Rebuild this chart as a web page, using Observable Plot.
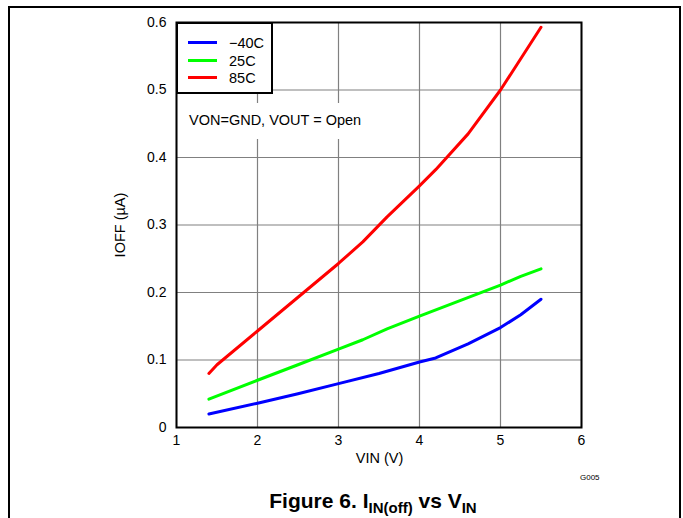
<!DOCTYPE html>
<html>
<head>
<meta charset="utf-8">
<script src="https://cdn.jsdelivr.net/npm/d3@7"></script>
<script src="https://cdn.jsdelivr.net/npm/@observablehq/plot@0.6"></script>
<style>
  body { margin: 0; background: #fff; }
  #wrap { position: relative; width: 683px; height: 518px; overflow: hidden; font-family: "Liberation Sans", Arial, sans-serif; color: #000; }
  #wrap svg { position: absolute; left: 0; top: 0; }
  .abs { position: absolute; white-space: nowrap; }
  #outer { position: absolute; left: 8px; top: 6px; width: 673px; height: 530px; border: 2px solid #000; border-bottom: none; box-sizing: border-box; }
  #legend { position: absolute; left: 176px; top: 22px; width: 97px; height: 72px; border: 2px solid #000; background: #fff; box-sizing: border-box; }
  .sw { position: absolute; left: 10px; width: 29px; height: 3px; }
  .lt { position: absolute; left: 51px; font-size: 14.5px; line-height: 14px; white-space: nowrap; }
  #note { position: absolute; left: 178px; top: 103px; width: 200px; height: 36px; background: #fff; }
  #note span { position: absolute; left: 11px; top: 10px; font-size: 14.5px; line-height: 14px; white-space: nowrap; }
  .title { font-weight: bold; font-size: 21px; line-height: 21px; }
  .title sub { font-size: 15px; vertical-align: -5px; }
</style>
</head>
<body>
<div id="wrap"></div>
<script>
// ---- data ----
const seriesNames = ["\u221240C", "25C", "85C"];
const seriesColors = ["#0000ff", "#00ff00", "#ff0000"];

const vinM40 = [1.4, 2, 2.5, 3, 3.5, 4, 4.2, 4.6, 5, 5.25, 5.5];
const ioffM40 = [0.020, 0.036, 0.050, 0.065, 0.080, 0.097, 0.103, 0.124, 0.148, 0.167, 0.190];

const vin25 = [1.4, 2, 2.5, 3, 3.3, 3.6, 4, 4.5, 5, 5.25, 5.5];
const ioff25 = [0.042, 0.070, 0.093, 0.116, 0.130, 0.146, 0.165, 0.188, 0.211, 0.224, 0.235];

const vin85 = [1.4, 1.5, 2, 2.5, 3, 3.3, 3.6, 4, 4.2, 4.6, 5, 5.2, 5.5];
const ioff85 = [0.080, 0.093, 0.143, 0.193, 0.243, 0.275, 0.312, 0.358, 0.382, 0.435, 0.500, 0.537, 0.593];

const xTicks = [1, 2, 3, 4, 5, 6];
const yTicks = [0, 0.1, 0.2, 0.3, 0.4, 0.5, 0.6];
const yTickLabels = ["0", "0.1", "0.2", "0.3", "0.4", "0.5", "0.6"];

const xTitle = "VIN (V)";
const yTitle = "IOFF (\u00b5A)";
const noteText = "VON=GND, VOUT = Open";
const figCode = "G005";

// ---- build table ----
const allV = [vinM40, vin25, vin85];
const allI = [ioffM40, ioff25, ioff85];
const rows = [];
allV.forEach((vs, s) => vs.forEach((v, i) => rows.push({series: seriesNames[s], vin: v, ioff: allI[s][i]})));

const chart = Plot.plot({
  width: 683,
  height: 518,
  marginLeft: 176,
  marginRight: 102,
  marginTop: 22,
  marginBottom: 91,
  style: {fontFamily: "'Liberation Sans', Arial, sans-serif", fontSize: "14px", background: "transparent", color: "#000"},
  x: {domain: [1, 6]},
  y: {domain: [0, 0.6]},
  color: {domain: seriesNames, range: seriesColors},
  marks: [
    Plot.gridX(xTicks, {stroke: "#808080", strokeOpacity: 1, strokeWidth: 1.2}),
    Plot.gridY(yTicks, {stroke: "#808080", strokeOpacity: 1, strokeWidth: 1.2}),
    Plot.line(rows, {x: "vin", y: "ioff", z: "series", stroke: "series", strokeWidth: 3, curve: "linear"}),
    Plot.frame({stroke: "#000", strokeWidth: 2}),
    Plot.axisX(xTicks, {tickSize: 0, tickPadding: 8, fontSize: 14, label: null}),
    Plot.axisY(yTicks, {tickSize: 0, tickPadding: 10, fontSize: 14, label: null, tickFormat: d => yTickLabels[yTicks.indexOf(d)]})
  ]
});

const wrap = document.getElementById("wrap");
wrap.appendChild(chart);

const outer = document.createElement("div");
outer.id = "outer";
wrap.appendChild(outer);

// annotation
const note = document.createElement("div");
note.id = "note";
note.innerHTML = `<span>${noteText}</span>`;
wrap.appendChild(note);

// legend
const legend = document.createElement("div");
legend.id = "legend";
const rowY = [17, 35, 52];
seriesNames.forEach((name, i) => {
  const sw = document.createElement("div");
  sw.className = "sw";
  sw.style.top = (rowY[i]) + "px";
  sw.style.background = seriesColors[i];
  legend.appendChild(sw);
  const t = document.createElement("div");
  t.className = "lt";
  t.style.top = (rowY[i] - 5) + "px";
  t.textContent = name;
  legend.appendChild(t);
});
wrap.appendChild(legend);

// axis titles
const xt = document.createElement("div");
xt.className = "abs";
xt.style.cssText += "left:0px;width:759px;text-align:center;top:451px;font-size:14.5px;line-height:14px;";
xt.textContent = xTitle;
wrap.appendChild(xt);

const yt = document.createElement("div");
yt.className = "abs";
yt.style.cssText += "left:70px;top:218px;width:100px;text-align:center;font-size:14.5px;line-height:14px;transform:rotate(-90deg);";
yt.textContent = yTitle;
wrap.appendChild(yt);

// code label
const code = document.createElement("div");
code.className = "abs";
code.style.cssText += "left:580px;top:474px;font-size:8px;line-height:8px;";
code.textContent = figCode;
wrap.appendChild(code);

// title
const title = document.createElement("div");
title.className = "abs title";
title.style.cssText += "left:0px;width:746px;text-align:center;top:490px;";
title.innerHTML = "Figure 6. I<sub>IN(off)</sub> vs V<sub>IN</sub>";
wrap.appendChild(title);
</script>
</body>
</html>
